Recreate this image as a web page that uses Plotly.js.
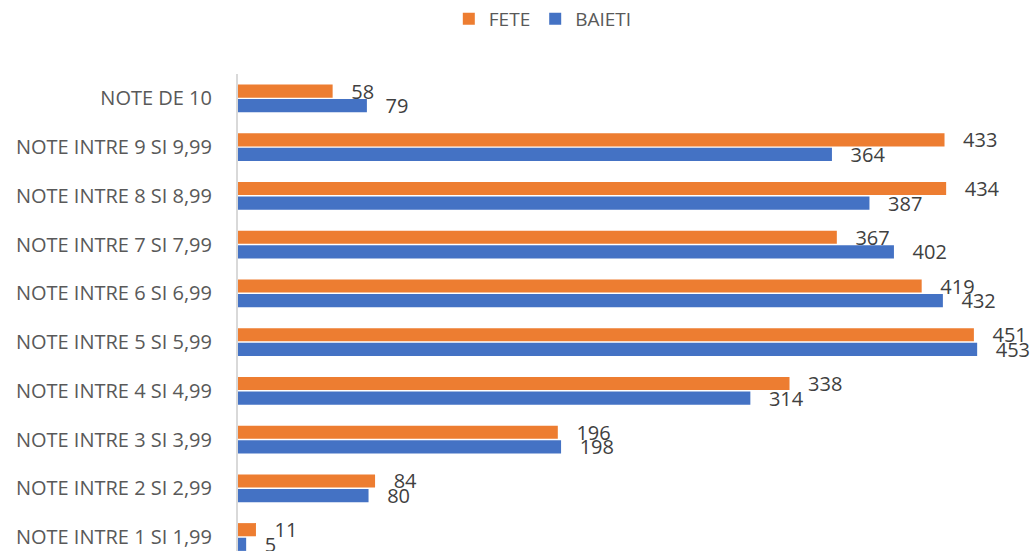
<!DOCTYPE html>
<html>
<head>
<meta charset="utf-8">
<script src="https://cdn.plot.ly/plotly-3.0.1.min.js"></script>
<style>html,body{margin:0;padding:0;background:#fff;}#chart{width:1030px;height:551px;}</style>
</head>
<body>
<div id="chart"></div>
<script>
const categories = ["NOTE INTRE 1 SI 1,99","NOTE INTRE 2 SI 2,99","NOTE INTRE 3 SI 3,99","NOTE INTRE 4 SI 4,99","NOTE INTRE 5 SI 5,99","NOTE INTRE 6 SI 6,99","NOTE INTRE 7 SI 7,99","NOTE INTRE 8 SI 8,99","NOTE INTRE 9 SI 9,99","NOTE DE 10"];
const fete = [11,84,196,338,451,419,367,434,433,58];
const baieti = [5,80,198,314,453,432,402,387,364,79];

const font = "'Open Sans', Lato, sans-serif";
const pad = '\u00A0\u00A0\u00A0';
const traces = [
  {type:'bar', orientation:'h', name:'BAIETI', y:categories, x:baieti, marker:{color:'#4472C4'},
   text:baieti.map(v => pad + v), textposition:'outside', cliponaxis:false, constraintext:'none',
   textfont:{family:font, size:20, color:'#404040'}, hoverinfo:'x+y'},
  {type:'bar', orientation:'h', name:'FETE', y:categories, x:fete, marker:{color:'#ED7D31'},
   text:fete.map(v => pad + v), textposition:'outside', cliponaxis:false, constraintext:'none',
   textfont:{family:font, size:20, color:'#404040'}, hoverinfo:'x+y'}
];
const layout = {
  width:1030, height:551,
  margin:{l:238, r:30, t:74, b:0},
  paper_bgcolor:'#fff', plot_bgcolor:'#fff',
  barmode:'group', bargap:0.4, bargroupgap:0.1,
  font:{family:font, color:'#595959'},
  showlegend:true,
  legend:{orientation:'h', x:0.527, xref:'container', xanchor:'center', y:1.0, yref:'container', yanchor:'top',
          traceorder:'reversed', font:{size:19, color:'#595959', family:font}},
  xaxis:{range:[0,467], visible:false, showgrid:false, zeroline:false},
  yaxis:{type:'category', categoryorder:'array', categoryarray:categories, range:[-0.287,9.5],
         showline:true, linecolor:'#D9D9D9', linewidth:2, ticks:'', showgrid:false,
         tickfont:{size:20, color:'#595959', family:font}, ticklabelstandoff:20, automargin:false}
};
Plotly.newPlot('chart', traces, layout, {displayModeBar:false, staticPlot:true});
</script>
</body>
</html>
